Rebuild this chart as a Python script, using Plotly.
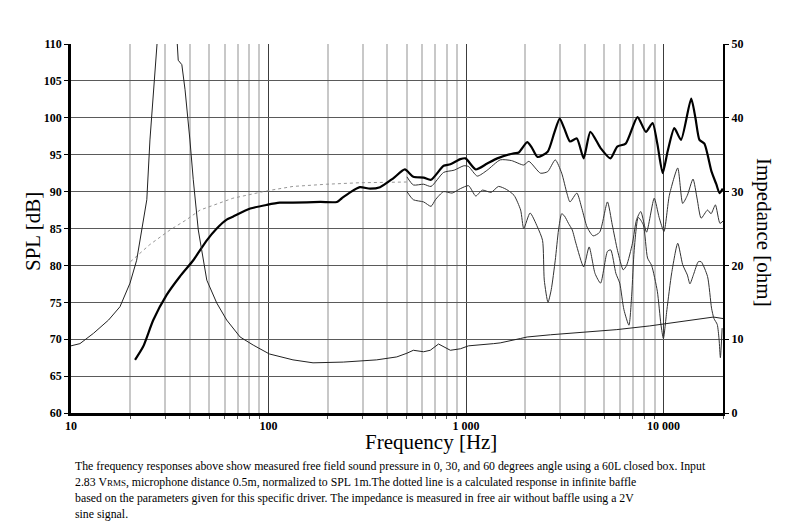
import math
import plotly.graph_objects as go

# 0 degree response (thick line)
freq_0deg = [21.1, 23.2, 26.1, 30.5, 35.6, 41.6, 48.7, 54.7, 61.4, 66, 80.8, 98, 114, 133, 183,
             222, 235, 259, 290, 327, 367, 428, 490, 541, 610, 665, 770, 833, 936, 994, 1120,
             1280, 1440, 1750, 1850, 2040, 2150, 2300, 2590, 2800, 2980, 3150, 3360, 3640,
             3940, 4260, 4800, 5380, 5830, 6430, 7380, 8140, 8800, 9300, 9900, 10500, 11340,
             12260, 13800, 14500, 15200, 16100, 17500, 18500, 19200, 19950]
spl_0deg = [67.2, 69.0, 72.6, 76.0, 78.5, 80.7, 83.4, 85.0, 86.2, 86.6, 87.7, 88.2, 88.5, 88.5, 88.6,
            88.6, 89.1, 89.9, 90.6, 90.4, 90.6, 91.8, 93.0, 92.0, 91.9, 91.6, 93.5, 93.7, 94.4, 94.5, 93.0,
            93.8, 94.5, 95.2, 95.3, 96.7, 96.0, 94.7, 95.4, 98.0, 99.9, 98.5, 96.8, 97.2,
            94.5, 98.1, 95.9, 94.5, 96.1, 96.5, 100.1, 98.1, 99.3, 96.5, 92.5, 95.5, 98.6,
            97.0, 102.6, 100.0, 97.0, 96.5, 92.7, 91.0, 89.8, 90.4]

# 30 degree response
freq_30deg = [502, 541, 610, 665, 770, 870, 975, 1030, 1140, 1280, 1490, 1700, 1960, 2080, 2380,
              2590, 2830, 3050, 3240, 3360, 3640, 3860, 4100, 4400, 4750, 5200, 5500, 5850, 6250,
              6500, 6960, 7300, 7670, 8200, 8970, 9500, 10050, 10700, 11800, 12500, 13200, 14100,
              14800, 15500, 16700, 17400, 18300, 19300, 20000]
spl_30deg = [92.0, 90.9, 91.0, 90.7, 92.6, 92.9, 93.5, 93.4, 92.1, 92.9, 94.3, 94.2, 93.6, 94.1, 92.5,
             92.7, 94.3, 92.5, 89.8, 88.6, 89.8, 87.7, 85.2, 84.0, 84.5, 88.6, 85.5, 82.0, 79.4,
             80.0, 83.0, 86.2, 87.3, 84.5, 89.1, 86.5, 84.6, 89.5, 93.2, 88.4, 89.5, 91.7,
             89.0, 86.4, 87.5, 87.0, 88.2, 85.7, 86.0]

# 60 degree response
freq_60deg = [502, 541, 610, 665, 700, 770, 850, 936, 1030, 1120, 1210, 1340, 1460, 1600, 1750,
              1890, 1960, 2110, 2300, 2440, 2490, 2600, 2700, 2830, 2940, 3050, 3150, 3300, 3450,
              3600, 3940, 4200, 4500, 4800, 5200, 5400, 5740, 6000, 6300, 6680, 6900, 7100, 7450,
              7900, 8300, 8700, 9300, 9700, 9980, 10400, 11000, 11800, 12500, 13200, 13600, 14200,
              15000, 15500, 16700, 17500, 18000, 18700, 19100, 19400, 19800]
spl_60deg = [90.0, 88.9, 88.6, 88.0, 88.9, 90.0, 89.8, 90.4, 90.8, 89.4, 90.2, 89.9, 90.7, 90.3, 89.5,
             87.5, 85.0, 87.1, 85.2, 83.4, 78.0, 75.0, 76.7, 80.7, 84.8, 87.0, 86.7, 85.7, 84.8,
             83.0, 79.8, 82.5, 78.9, 77.6, 81.9, 82.1, 78.9, 77.6, 74.0, 71.9, 76.0, 82.0, 86.5,
             85.5, 81.0, 80.0, 76.5, 72.0, 70.1, 74.0, 79.0, 83.0, 80.1, 78.7, 77.5, 78.8,
             80.5, 80.5, 78.5, 74.2, 72.8, 72.0, 70.0, 67.5, 71.5]

# calculated infinite baffle response (dotted)
freq_calc = [20, 25, 31.7, 38.5, 45, 66, 98, 133, 197, 290, 500]
spl_calc = [80.5, 82.8, 84.8, 86.2, 87.5, 89.1, 90.1, 90.7, 91.0, 91.2, 91.3]

# impedance in free air (right axis)
freq_imp = [10, 11.1, 13, 15.5, 17.7, 19.9, 21.5, 23.2, 24.2, 25.1, 26.1, 26.9, 28.5, 30.5, 32.5,
            34.5, 34.9, 36.4, 37.8, 40, 41.6, 44.1, 45, 48.7, 54.7, 61.4, 71.8, 83.7, 101, 133,
            168, 239, 353, 446, 502, 541, 610, 659, 726, 833, 936, 1030, 1380, 1490, 1890, 2040,
            2680, 3940, 5800, 8520, 12500, 17900, 20000]
z_imp = [9.1, 9.4, 10.8, 12.6, 14.4, 17.6, 20.7, 26.1, 28.9, 37, 44.2, 50.1, 57, 60, 57,
         50.1, 47.8, 47.2, 43.8, 37, 31.6, 24.8, 23.4, 18, 14.9, 12.6, 10.3, 9.2, 8.0, 7.2,
         6.8, 6.9, 7.2, 7.6, 8.1, 8.5, 8.3, 8.5, 9.35, 8.5, 8.7, 9.1, 9.4, 9.5, 10.1, 10.3,
         10.6, 10.9, 11.3, 11.8, 12.4, 13.0, 12.8]

x_tickvals = [10, 100, 1000, 10000]
x_ticktext = ["10", "100", "1 000", "10 000"]
minor_vals = [m * d for d in (10, 100, 1000, 10000) for m in range(2, 10) if m * d <= 20000]

caption = [
    "The frequency responses above show measured free field sound pressure in 0, 30, and 60 degrees angle using a 60L closed box. Input",
    "2.83 V<span style='font-size:9px'>RMS</span>, microphone distance 0.5m, normalized to SPL 1m.The dotted line is a calculated response in infinite baffle",
    "based on the parameters given for this specific driver. The impedance is measured in free air without baffle using a 2V",
    "sine signal.",
]

SERIF = "Liberation Serif"
# the page body adds an 8px margin, so the figure is drawn 8px smaller and
# every pixel position below is given in page pixels and shifted back
OFF = 8
W, H = 800 - OFF, 523 - OFF
PL, PR, PT, PB = 71 - OFF, 723 - OFF, 44 - OFF, 413 - OFF

fig = go.Figure()
fig.add_trace(go.Scatter(x=freq_calc, y=spl_calc, mode="lines",
                         line=dict(color="#8a8a8a", width=0.9, dash="dot")))
fig.add_trace(go.Scatter(x=freq_60deg, y=spl_60deg, mode="lines",
                         line=dict(color="#333333", width=1, shape="spline", smoothing=0.6)))
fig.add_trace(go.Scatter(x=freq_30deg, y=spl_30deg, mode="lines",
                         line=dict(color="#333333", width=1, shape="spline", smoothing=0.6)))
fig.add_trace(go.Scatter(x=freq_imp, y=z_imp, mode="lines", yaxis="y2",
                         line=dict(color="#222222", width=1)))
fig.add_trace(go.Scatter(x=freq_0deg, y=spl_0deg, mode="lines",
                         line=dict(color="black", width=2.2, shape="spline", smoothing=0.6)))

tickfont = dict(family=SERIF, size=12, color="black", weight="bold")

fig.update_layout(
    width=W, height=H,
    margin=dict(l=PL, r=W - PR, t=PT, b=H - PB),
    paper_bgcolor="white", plot_bgcolor="white",
    showlegend=False,
    xaxis=dict(
        type="log", range=[1, math.log10(20000)],
        tickvals=x_tickvals, ticktext=x_ticktext, tickfont=tickfont,
        showgrid=True, gridcolor="#3c3c3c", gridwidth=1,
        showline=True, linecolor="black", linewidth=2.5,
        ticks="", zeroline=False,
        minor=dict(tickvals=minor_vals, showgrid=True, gridcolor="#c8c8c8", gridwidth=1.5,
                   ticks="outside", ticklen=3, tickcolor="#555555"),
    ),
    yaxis=dict(
        range=[60, 110], dtick=5, tickfont=tickfont,
        showgrid=True, gridcolor="#5a5a5a", gridwidth=1,
        showline=True, linecolor="black", linewidth=2.5,
        ticks="outside", ticklen=4, tickcolor="black", zeroline=False,
    ),
    yaxis2=dict(
        range=[0, 50], dtick=10, tickfont=tickfont,
        overlaying="y", side="right", showgrid=False,
        showline=True, linecolor="black", linewidth=2,
        ticks="outside", ticklen=4, tickcolor="black", zeroline=False,
    ),
)


def px_x(p):
    return (p - 71) / 652


def px_y(p):
    return (413 - p) / 369


title_font = dict(family=SERIF, size=21, color="black")
fig.add_annotation(text="SPL [dB]", xref="paper", yref="paper", x=px_x(33), y=px_y(232),
                   xanchor="center", yanchor="middle",
                   textangle=-90, showarrow=False, font=title_font)
fig.add_annotation(text="Impedance [ohm]", xref="paper", yref="paper", x=px_x(764), y=px_y(232),
                   xanchor="center", yanchor="middle",
                   textangle=90, showarrow=False, font=title_font)
fig.add_annotation(text="Frequency [Hz]", xref="paper", yref="paper", x=px_x(431), y=px_y(442),
                   xanchor="center", yanchor="middle",
                   showarrow=False, font=title_font)

for i, line in enumerate(caption):
    fig.add_annotation(text=line, xref="paper", yref="paper", x=px_x(73), y=px_y(466 + 16 * i),
                       xanchor="left", yanchor="middle", showarrow=False,
                       font=dict(family=SERIF, size=11.8, color="black"))

fig.write_html("out.html")
